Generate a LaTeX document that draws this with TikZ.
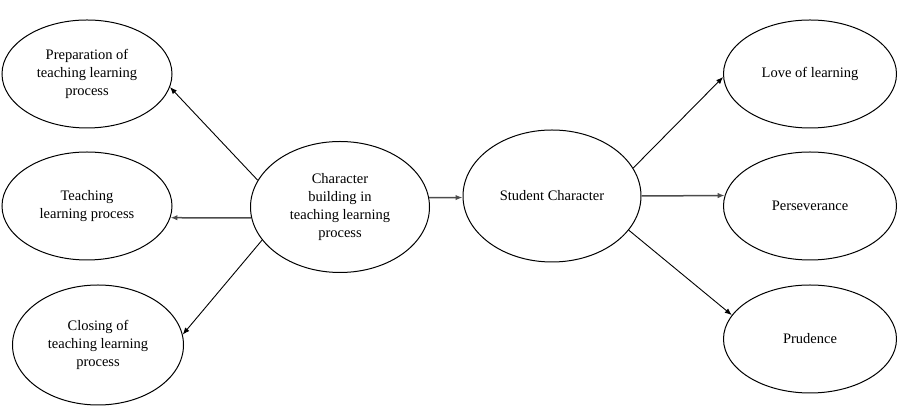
\documentclass[tikz,border=0pt]{standalone}
\usepackage{fontspec}
\setmainfont{Liberation Serif}
\usepackage{tikz}
\usetikzlibrary{arrows.meta, shapes.geometric}
\tikzset{
  aspect/.style={draw, ellipse, line width=1pt, inner sep=0pt, align=center, minimum width=171pt, minimum height=108pt},
  link/.style={-{Latex[length=7pt, width=5.5pt]}, line width=0.9pt},
  flatlink/.style={link, line width=1.5pt, draw=black!70}
}

\begin{document}
\begin{tikzpicture}[x=1pt, y=1pt, font=\rmfamily\fontsize{14.5}{18}\selectfont]
        \useasboundingbox (0,0) rectangle (897,414);

        % Core concepts
        \node[aspect, minimum width=179pt, minimum height=131pt] (charbuild) at (340,207) {Character\\building in\\teaching learning\\process};
        \node[aspect, minimum width=178pt, minimum height=132pt] (student)   at (552,218) {Student Character};

        % Stages of teaching
        \node[aspect, minimum width=170pt] (prep)  at (87,340) {Preparation of\\teaching learning\\process};
        \node[aspect, minimum width=170pt] (teach) at (87,208) {Teaching\\learning process};
        \node[aspect, minimum height=120pt] (close) at (98,69) {Closing of\\teaching learning\\process};

        % Character values
        \node[aspect, minimum width=173pt] (love)  at (810,340) {Love of learning};
        \node[aspect, minimum width=173pt] (perse) at (810,208) {Perseverance};
        \node[aspect, minimum width=173pt] (prud)  at (810,75)  {Prudence};

        % Links
        \draw[link] (charbuild.162) -- (prep.-9);
        \draw[flatlink] (charbuild.187) -- (teach.-8);
        \draw[link] (charbuild.203) -- (close.7);
        \draw[flatlink] (charbuild.6) -- (student.181);

        \draw[link] (student.19) -- (love.182);
        \draw[flatlink] (student.0) -- (perse.173);
        \draw[link] (student.-24) -- (prud.163);
    \end{tikzpicture}
\end{document}
